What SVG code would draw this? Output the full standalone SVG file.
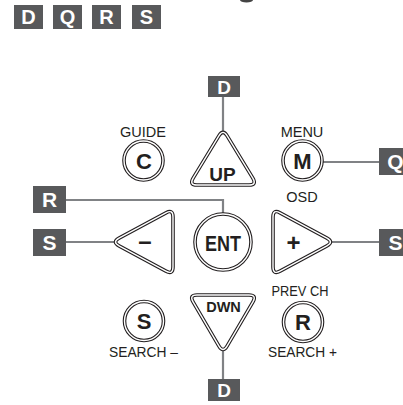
<svg xmlns="http://www.w3.org/2000/svg" width="403" height="405" viewBox="0 0 403 405">
<style>
.badge{fill:#58595b}
.bl{font-family:"Liberation Sans",Arial,sans-serif;font-weight:bold;fill:#fff;text-anchor:middle}
.btn{fill:#fff;stroke:#231f20;stroke-width:3.6;stroke-linejoin:round}
.gap{fill:none;stroke:#fff;stroke-width:1.4;stroke-linejoin:round}
.key{font-family:"Liberation Sans",Arial,sans-serif;font-weight:bold;fill:#231f20;text-anchor:middle}
.lab{font-family:"Liberation Sans",Arial,sans-serif;font-size:14.5px;fill:#231f20;text-anchor:middle}
.con{fill:none;stroke:#808285;stroke-width:2.2}
</style>
<rect width="403" height="405" fill="#fff"/>
<ellipse cx="246.5" cy="0" rx="6.5" ry="2.6" fill="#444"/>
<g id="legend">
<rect class="badge" x="14" y="5" width="29" height="24"/><text class="bl" x="28.5" y="24" font-size="20">D</text>
<rect class="badge" x="53" y="5" width="29" height="24"/><text class="bl" x="67.5" y="24" font-size="20">Q</text>
<rect class="badge" x="92" y="5" width="29" height="24"/><text class="bl" x="106.5" y="24" font-size="20">R</text>
<rect class="badge" x="132" y="5" width="29" height="24"/><text class="bl" x="146.5" y="24" font-size="20">S</text>
</g>
<g id="connectors">
<path class="con" d="M223,96V148"/>
<path class="con" d="M223,330V379"/>
<path class="con" d="M317,162H380"/>
<path class="con" d="M66,200H223V225"/>
<path class="con" d="M66,242H132"/>
<path class="con" d="M314,242H380"/>
</g>
<g id="btn-guide">
<text class="lab" x="143" y="137">GUIDE</text>
<circle class="btn" cx="143.5" cy="160.5" r="19.5"/><circle class="gap" cx="143.5" cy="160.5" r="19.5"/>
<text class="key" x="144" y="168.5" font-size="22">C</text>
</g>
<g id="btn-menu">
<text class="lab" x="302" y="137">MENU</text>
<circle class="btn" cx="302.5" cy="160.5" r="19.5"/><circle class="gap" cx="302.5" cy="160.5" r="19.5"/>
<text class="key" x="302.5" y="169" font-size="22">M</text>
<text class="lab" x="302" y="202">OSD</text>
</g>
<g id="btn-up">
<path class="btn" d="M227.15,135.84L252.85,178.16Q257,185 249,185L197,185Q189,185 193.15,178.16L218.85,135.84Q223,129 227.15,135.84Z"/>
<path class="gap" d="M227.15,135.84L252.85,178.16Q257,185 249,185L197,185Q189,185 193.15,178.16L218.85,135.84Q223,129 227.15,135.84Z"/>
<text class="key" x="222.5" y="181" font-size="19">UP</text>
</g>
<g id="btn-ent">
<circle class="btn" cx="223" cy="242" r="28"/><circle class="gap" cx="223" cy="242" r="28"/>
<text class="key" x="223" y="251" font-size="22" textLength="36" lengthAdjust="spacingAndGlyphs">ENT</text>
</g>
<g id="btn-minus">
<path class="btn" d="M119.03,238.2L165.97,212.8Q173,209 173,217L173,267Q173,275 165.97,271.2L119.03,245.8Q112,242 119.03,238.2Z"/>
<path class="gap" d="M119.03,238.2L165.97,212.8Q173,209 173,217L173,267Q173,275 165.97,271.2L119.03,245.8Q112,242 119.03,238.2Z"/>
<text class="key" x="145" y="249" font-size="24">–</text>
</g>
<g id="btn-plus">
<path class="btn" d="M326.97,238.2L280.03,212.8Q273,209 273,217L273,267Q273,275 280.03,271.2L326.97,245.8Q334,242 326.97,238.2Z"/>
<path class="gap" d="M326.97,238.2L280.03,212.8Q273,209 273,217L273,267Q273,275 280.03,271.2L326.97,245.8Q334,242 326.97,238.2Z"/>
<text class="key" x="293.5" y="251" font-size="24">+</text>
</g>
<g id="btn-dwn">
<path class="btn" d="M227.05,346.1L252.95,301.9Q257,295 249,295L197,295Q189,295 193.05,301.9L218.95,346.1Q223,353 227.05,346.1Z"/>
<path class="gap" d="M227.05,346.1L252.95,301.9Q257,295 249,295L197,295Q189,295 193.05,301.9L218.95,346.1Q223,353 227.05,346.1Z"/>
<text class="key" x="223.5" y="312" font-size="14.5">DWN</text>
</g>
<g id="btn-search-minus">
<circle class="btn" cx="144" cy="321" r="19.5"/><circle class="gap" cx="144" cy="321" r="19.5"/>
<text class="key" x="144" y="329" font-size="22">S</text>
<text class="lab" x="143.5" y="357" textLength="69" lengthAdjust="spacingAndGlyphs">SEARCH –</text>
</g>
<g id="btn-search-plus">
<text class="lab" x="300" y="296" textLength="57" lengthAdjust="spacingAndGlyphs">PREV CH</text>
<circle class="btn" cx="303" cy="322" r="19.5"/><circle class="gap" cx="303" cy="322" r="19.5"/>
<text class="key" x="303" y="330" font-size="22">R</text>
<text class="lab" x="302.5" y="357" textLength="69" lengthAdjust="spacingAndGlyphs">SEARCH +</text>
</g>
<g id="badge-d-top"><rect class="badge" x="208" y="76" width="32" height="21"/><text class="bl" x="224" y="94" font-size="19">D</text></g>
<g id="badge-d-bottom"><rect class="badge" x="208" y="379" width="32" height="22"/><text class="bl" x="224" y="397" font-size="19">D</text></g>
<g id="badge-q"><rect class="badge" x="379" y="148" width="33" height="27"/><text class="bl" x="395.5" y="169" font-size="21">Q</text></g>
<g id="badge-r"><rect class="badge" x="33" y="186" width="33" height="27"/><text class="bl" x="49.5" y="207" font-size="21">R</text></g>
<g id="badge-s-left"><rect class="badge" x="33" y="229" width="33" height="27"/><text class="bl" x="49.5" y="250" font-size="21">S</text></g>
<g id="badge-s-right"><rect class="badge" x="379" y="229" width="33" height="27"/><text class="bl" x="395.5" y="250" font-size="21">S</text></g>
</svg>
